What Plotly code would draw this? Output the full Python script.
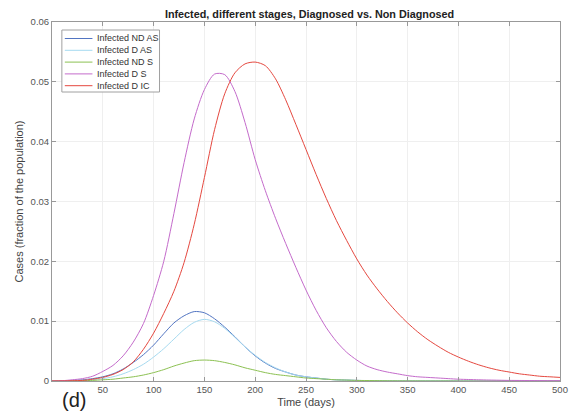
import plotly.graph_objects as go

# Time grid (days)
days = list(range(0, 501, 10))

# Infected, non-diagnosed, asymptomatic
infected_nd_as = [0, 0.00003, 0.0001, 0.0002, 0.0004, 0.0007, 0.0012, 0.0020, 0.0031, 0.0044,
                  0.0060, 0.0079, 0.0097, 0.0109, 0.0116, 0.0114, 0.0104, 0.0090, 0.0074, 0.0057,
                  0.0042, 0.0030, 0.0021, 0.0015, 0.0010, 0.0007, 0.0005, 0.0003, 0.0002, 0.00015,
                  0.0001, 0.00007, 0.00005, 0.00003, 0.00002, 0.00002, 0.00001, 0.00001, 0.00001, 0.00001,
                  0, 0, 0, 0, 0, 0, 0, 0, 0, 0, 0]

# Infected, diagnosed, asymptomatic
infected_d_as = [0, 0.00001, 0.00005, 0.0001, 0.0002, 0.0004, 0.0007, 0.0012, 0.0019, 0.0028,
                 0.0040, 0.0054, 0.0070, 0.0086, 0.0098, 0.0103, 0.0099, 0.0088, 0.0073, 0.0057,
                 0.0043, 0.0031, 0.0022, 0.0015, 0.0010, 0.0007, 0.0005, 0.0003, 0.0002, 0.00015,
                 0.0001, 0.00007, 0.00005, 0.00003, 0.00002, 0.00002, 0.00001, 0.00001, 0.00001, 0.00001,
                 0, 0, 0, 0, 0, 0, 0, 0, 0, 0, 0]

# Infected, non-diagnosed, symptomatic
infected_nd_s = [0, 0.00001, 0.00003, 0.00006, 0.0001, 0.0002, 0.0003, 0.0005, 0.0007, 0.0010,
                 0.0014, 0.0019, 0.0025, 0.0030, 0.0034, 0.0035, 0.0034, 0.0031, 0.0027, 0.0022,
                 0.0018, 0.0014, 0.0011, 0.0009, 0.0007, 0.0005, 0.0004, 0.0003, 0.0002, 0.00015,
                 0.0001, 0.00008, 0.00006, 0.00004, 0.00003, 0.00002, 0.00002, 0.00001, 0.00001, 0.00001,
                 0, 0, 0, 0, 0, 0, 0, 0, 0, 0, 0]

# Infected, diagnosed, symptomatic
infected_d_s = [0, 0.00005, 0.0002, 0.0004, 0.0008, 0.0016, 0.0026, 0.0042, 0.0065, 0.0096,
                0.0143, 0.0200, 0.0280, 0.0365, 0.0438, 0.0487, 0.0513, 0.0512, 0.0484, 0.0432,
                0.0370, 0.0318, 0.0272, 0.0230, 0.0190, 0.0152, 0.0118, 0.0089, 0.0066, 0.0048,
                0.0035, 0.0025, 0.0019, 0.0015, 0.0012, 0.0009, 0.0007, 0.0006, 0.0005, 0.0004,
                0.0003, 0.00025, 0.0002, 0.00016, 0.00013, 0.0001, 0.00009, 0.00008, 0.00007, 0.00006, 0.00005]

# Infected, diagnosed, intensive care
infected_d_ic = [0, 0.00002, 0.00005, 0.0001, 0.0003, 0.0006, 0.0011, 0.0019, 0.0032, 0.0053,
                 0.0080, 0.0113, 0.0150, 0.0198, 0.0262, 0.0340, 0.0420, 0.0480, 0.0515, 0.0530,
                 0.0533, 0.0527, 0.0505, 0.0470, 0.0429, 0.0387, 0.0345, 0.0305, 0.0268, 0.0235,
                 0.0204, 0.0177, 0.0154, 0.0133, 0.0114, 0.0097, 0.0082, 0.0069, 0.0058, 0.0048,
                 0.0040, 0.0033, 0.0027, 0.0022, 0.0018, 0.0015, 0.0012, 0.0010, 0.0008, 0.0007, 0.0006]

series_names = ["Infected ND AS", "Infected D AS", "Infected ND S", "Infected D S", "Infected D IC"]
series_values = [infected_nd_as, infected_d_as, infected_nd_s, infected_d_s, infected_d_ic]
series_colors = ["#5275c2", "#a6daf0", "#8cc152", "#c46bcb", "#e5483f"]

x_ticks = [50, 100, 150, 200, 250, 300, 350, 400, 450, 500]
y_ticks = [0, 0.01, 0.02, 0.03, 0.04, 0.05, 0.06]
y_tick_labels = ["0", "0.01", "0.02", "0.03", "0.04", "0.05", "0.06"]

FONT = "Liberation Sans, Arial, sans-serif"

# Plot area in pixels (used to place the boxed legend in paper units)
W, H = 580, 419
ML, MR, MT, MB = 52, 13, 22, 38
PW, PH = W - ML - MR, H - MT - MB


def px_x(px):
    return (px - ML) / PW


def px_y(py):
    return (H - MB - py) / PH


fig = go.Figure()
for name, vals, col in zip(series_names, series_values, series_colors):
    fig.add_trace(go.Scatter(
        x=days, y=vals, name=name, mode="lines", showlegend=False,
        line=dict(color=col, width=1, shape="spline", smoothing=0.8),
    ))

axis_common = dict(
    showline=True, linecolor="#999999", linewidth=1, mirror="ticks",
    ticks="inside", ticklen=4, tickcolor="#999999",
    showgrid=True, gridcolor="#efefef", gridwidth=1,
    zeroline=False,
    tickfont=dict(family=FONT, size=9.5, color="#555555"),
)

fig.update_layout(
    width=W, height=H,
    margin=dict(l=ML, r=MR, t=MT, b=MB),
    paper_bgcolor="white", plot_bgcolor="white",
    title=dict(
        text="<b>Infected, different stages, Diagnosed vs. Non Diagnosed</b>",
        x=(ML + PW / 2) / W, xanchor="center", y=1 - 14 / H, yanchor="middle",
        font=dict(family=FONT, size=10.8, color="#222222"),
    ),
    xaxis=dict(range=[0, 500], tickvals=x_ticks,
               title=dict(text="Time (days)", font=dict(family=FONT, size=11, color="#444444"), standoff=3),
               **axis_common),
    yaxis=dict(range=[0, 0.06], tickvals=y_ticks, ticktext=y_tick_labels,
               title=dict(text="Cases (fraction of the population)", font=dict(family=FONT, size=11, color="#444444"), standoff=4),
               **axis_common),
    showlegend=False,
)

# Boxed legend: line samples and labels stacked in the upper-left corner
box_l, box_r, box_t, box_b = 62, 161, 30, 92
fig.add_shape(type="rect", xref="paper", yref="paper",
              x0=px_x(box_l), x1=px_x(box_r), y0=px_y(box_b), y1=px_y(box_t),
              line=dict(color="#a0a0a0", width=1), fillcolor="white", layer="above")
row0, row_step = 38.5, 11.8
for i, (name, col) in enumerate(zip(series_names, series_colors)):
    ry = row0 + i * row_step
    fig.add_shape(type="line", xref="paper", yref="paper",
                  x0=px_x(65), x1=px_x(93), y0=px_y(ry), y1=px_y(ry),
                  line=dict(color=col, width=1), layer="above")
    fig.add_annotation(text=name, xref="paper", yref="paper",
                       x=px_x(96), y=px_y(ry), xanchor="left", yanchor="middle",
                       showarrow=False,
                       font=dict(family=FONT, size=9, color="#333333"))

fig.add_annotation(
    text="(d)", xref="paper", yref="paper", x=px_x(60), y=px_y(400),
    xanchor="left", yanchor="middle", showarrow=False,
    font=dict(family=FONT, size=20, color="#222222"),
)

fig.write_html("out.html")
